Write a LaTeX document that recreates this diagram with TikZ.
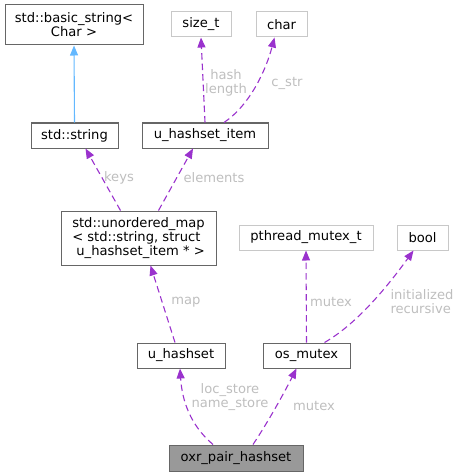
\documentclass[tikz,border=0pt]{standalone}
\usepackage{fontspec}
\setmainfont{DejaVu Sans}
\usetikzlibrary{arrows.meta}
\definecolor{purp}{HTML}{9A32CD}
\definecolor{blu}{HTML}{63B8FF}
\definecolor{lbl}{HTML}{BEBEBE}
\definecolor{dk}{HTML}{666666}
\definecolor{lt}{HTML}{C8C8C8}
\begin{document}
\begin{tikzpicture}[x=1pt,y=-1pt,
  font=\fontsize{13.1}{14}\selectfont,
  cls/.style={draw=dk,line width=1pt,fill=white,inner sep=0pt,minimum height=25pt,align=center},
  ext/.style={draw=lt,line width=1pt,fill=white,inner sep=0pt,minimum height=25pt,align=center},
  dep/.style={draw=purp,line width=1.1pt,dash pattern=on 6.5pt off 4pt,-{Triangle[length=10pt,width=8pt]}},
  inh/.style={draw=blu,line width=1.1pt,-{Triangle[length=10pt,width=8pt]}},
  lab/.style={text=lbl,inner sep=0pt,align=center}]
\useasboundingbox (0,0) rectangle (461,476);
\node[cls,minimum width=138pt,minimum height=40pt] (bs) at (74,25) {std::basic\_string<\\Char >};
\node[ext,minimum width=60pt] (sizet) at (201,24.5) {size\_t};
\node[ext,minimum width=51pt] (char) at (281.5,24.5) {char};
\node[cls,minimum width=87pt] (str) at (74.5,135.5) {std::string};
\node[cls,minimum width=126pt] (item) at (205,135.5) {u\_hashset\_item};
\node[cls,minimum width=155pt,minimum height=54pt,align=left] (map) at (138.5,238) {std::unordered\_map\\< std::string, struct\\\ u\_hashset\_item * >};
\node[ext,minimum width=134pt] (pth) at (306,237.5) {pthread\_mutex\_t};
\node[ext,minimum width=51pt] (bool) at (422.5,237.5) {bool};
\node[cls,minimum width=88pt] (uh) at (181,355.5) {u\_hashset};
\node[cls,minimum width=87pt] (osm) at (306.5,355.5) {os\_mutex};
\node[cls,fill={rgb,255:red,153;green,153;blue,153},minimum width=134pt,minimum height=26pt] (oxr) at (236,458) {oxr\_pair\_hashset};

\draw[inh] (str.north) -- (bs.south);
\draw[dep] (item.north) -- (sizet.south);
\node[lab] (l1) at (226,83) {hash\\length};
\draw[dep] ([xshift=19pt]item.north) .. controls (250,105) and (266,70) .. ([xshift=-7pt]char.south);
\node[lab] (l2) at (287,83) {c\_str};
\draw[dep] ([xshift=-18pt]map.north) -- ([xshift=11pt]str.south);
\node[lab] (l3) at (119,178) {keys};
\draw[dep] ([xshift=20pt]map.north) -- ([xshift=-12pt]item.south);
\node[lab] (l4) at (214,178) {elements};
\draw[dep] ([xshift=-6pt]uh.north) -- ([xshift=12pt]map.south);
\node[lab] (l5) at (186,302) {map};
\draw[dep] (osm.north) -- (pth.south);
\node[lab] (l6) at (331,302) {mutex};
\draw[dep] ([xshift=18pt]osm.north) .. controls (355,325) and (385,290) .. ([xshift=-9pt]bool.south);
\node[lab,align=left] (l7) at (422,302) {initialized\\recursive};
\draw[dep] ([xshift=-23pt]oxr.north) .. controls (190,425) and (182,400) .. ([xshift=-1pt]uh.south);
\node[lab] (l8) at (230,397) {loc\_store\\name\_store};
\draw[dep] ([xshift=17pt]oxr.north) .. controls (268,422) and (283,395) .. ([xshift=-10pt]osm.south);
\node[lab] (l9) at (314,406) {mutex};
\end{tikzpicture}
\end{document}
